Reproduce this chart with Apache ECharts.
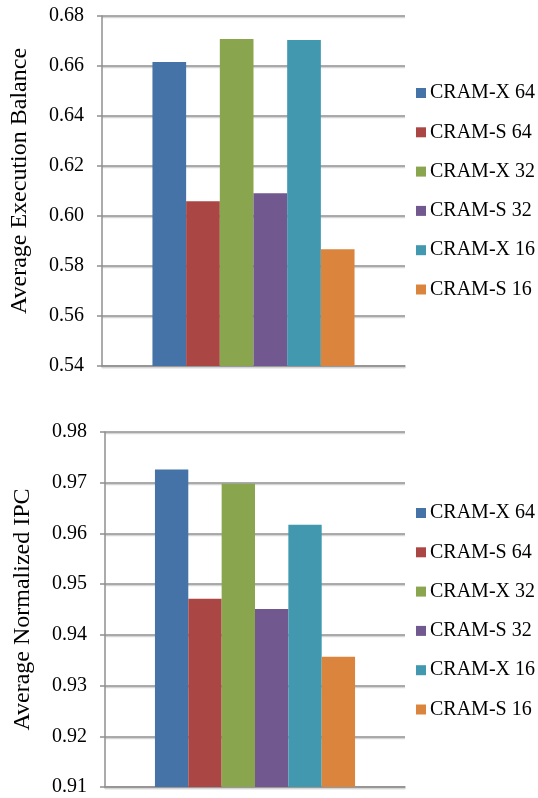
<!DOCTYPE html>
<html>
<head>
<meta charset="utf-8">
<script src="https://cdn.jsdelivr.net/npm/echarts@6/dist/echarts.min.js"></script>
<style>
html,body{margin:0;padding:0;background:#fff;}
#c{width:538px;height:798px;}
</style>
</head>
<body>
<div id="c"></div>
<script>
var seriesNames = ['CRAM-X 64','CRAM-S 64','CRAM-X 32','CRAM-S 32','CRAM-X 16','CRAM-S 16'];
var balanceValues = [0.6616, 0.6059, 0.6708, 0.6091, 0.6704, 0.5867];
var ipcValues = [0.9726, 0.9471, 0.9698, 0.9451, 0.9617, 0.9357];
var balanceTicks = [0.54, 0.56, 0.58, 0.60, 0.62, 0.64, 0.66, 0.68];
var ipcTicks = [0.91, 0.92, 0.93, 0.94, 0.95, 0.96, 0.97, 0.98];
var colors = ['#4572A7','#AA4643','#89A54E','#71588F','#4198AF','#DB843D'];
var titles = ['Average Execution Balance','Average Normalized IPC'];

var FONT = '"Liberation Serif", "Times New Roman", serif';
var gridLine = {color:'#8f8f8f', width:1.5, shadowColor:'#d6d6d6', shadowOffsetY:1.5, shadowBlur:0};

function yAxis(idx, ticks, title, gap, pad){
  return {
    type:'value', gridIndex:idx,
    min:ticks[0], max:ticks[ticks.length-1], interval:ticks[1]-ticks[0],
    name:title, nameLocation:'middle', nameGap:gap,
    nameTextStyle:{fontFamily:FONT, fontSize:24, color:'#000', padding:pad},
    axisLine:{show:true, lineStyle:{color:'#8f8f8f', width:1.5}},
    axisTick:{show:true, length:5, lineStyle:{color:'#8f8f8f', width:1.5}},
    axisLabel:{fontFamily:FONT, fontSize:20, color:'#000', margin:18,
      formatter:function(v){return v.toFixed(2);}},
    splitLine:{show:true, lineStyle:gridLine}
  };
}
function xAxis(idx){
  return {
    type:'category', gridIndex:idx, data:['all'],
    axisLine:{show:true, lineStyle:gridLine},
    axisTick:{show:false}, axisLabel:{show:false}, splitLine:{show:false}
  };
}
var series = [];
[balanceValues, ipcValues].forEach(function(vals, g){
  seriesNames.forEach(function(n, i){
    series.push({
      type:'bar', name:n, xAxisIndex:g, yAxisIndex:g,
      data:[vals[i]], barGap:'0%', barCategoryGap:'33.3%',
      itemStyle:{color:colors[i]}
    });
  });
});
function legend(top){
  return {
    orient:'vertical', left:411, top:top, data:seriesNames,
    icon:'rect', itemWidth:10, itemHeight:10, itemGap:19.3,
    textStyle:{fontFamily:FONT, fontSize:20, color:'#000', lineHeight:20, padding:[0,0,0,-1]},
    selectedMode:false
  };
}
var option = {
  animation:false,
  color:colors,
  grid:[
    {left:102, right:133, top:16, height:350},
    {left:105, right:133, top:432, height:355}
  ],
  xAxis:[xAxis(0), xAxis(1)],
  yAxis:[yAxis(0, balanceTicks, titles[0], 70, [0,0,0,20]), yAxis(1, ipcTicks, titles[1], 70, [0,0,0,0])],
  legend:[legend(78), legend(498)],
  series:series
};
echarts.init(document.getElementById('c')).setOption(option);
</script>
</body>
</html>
